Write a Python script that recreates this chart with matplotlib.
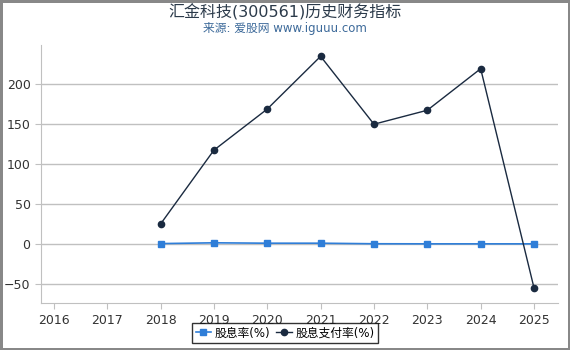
import matplotlib
matplotlib.use("Agg")
import matplotlib.pyplot as plt

plt.rcParams['font.family'] = ['DejaVu Sans', 'Noto Sans CJK SC']

# ── Data ──────────────────────────────────────────────────────────────────
years = [2018, 2019, 2020, 2021, 2022, 2023, 2024, 2025]
dividend_yield = [0.5, 1.5, 1.0, 1.0, 0.3, 0.2, 0.2, 0.2]
payout_ratio = [25, 117.5, 169, 235, 150, 167.5, 219.5, -55]
xticks = list(range(2016, 2026))

fig = plt.figure(figsize=(5.7, 3.5), dpi=100)
fig.patch.set_edgecolor("#888888")
fig.patch.set_linewidth(2.5)
ax = fig.add_axes([0.072, 0.134, 0.907, 0.737])

ax.plot(years, dividend_yield, color="#2f7ed8", linewidth=1.2,
        marker="s", markersize=4.5, label="股息率(%)")
ax.plot(years, payout_ratio, color="#1a2a40", linewidth=1.0,
        marker="o", markersize=4.5, label="股息支付率(%)")

ax.set_xlim(2015.76, 2025.45)
ax.set_ylim(-74, 249)
ax.set_xticks(xticks)
ax.set_yticks([-50, 0, 50, 100, 150, 200])
ax.grid(axis="y", color="#c0c0c0", linewidth=1.0)
ax.set_axisbelow(True)
for s in ["top", "right"]:
    ax.spines[s].set_visible(False)
ax.spines["left"].set_color("#c0c0c0")
ax.spines["bottom"].set_color("#c0c0c0")
ax.tick_params(colors="#333333", labelsize=9, length=4, color="#c0c0c0")

fig.text(0.5, 0.965, "汇金科技(300561)历史财务指标", ha="center", va="center",
         fontsize=11.5, color="#2b3a4a")
fig.text(0.5, 0.918, "来源: 爱股网 www.iguuu.com", ha="center", va="center",
         fontsize=8.5, color="#3d6a9a")

leg = fig.legend(loc="lower center", bbox_to_anchor=(0.5, 0.003), ncol=2,
                 fontsize=8.5, frameon=True, fancybox=False, handlelength=1.3,
                 handletextpad=0.3, columnspacing=0.5, borderpad=0.3)
leg.get_frame().set_edgecolor("black")
leg.get_frame().set_linewidth(1.0)

fig.savefig("out.png", dpi=100, edgecolor=fig.get_edgecolor())
